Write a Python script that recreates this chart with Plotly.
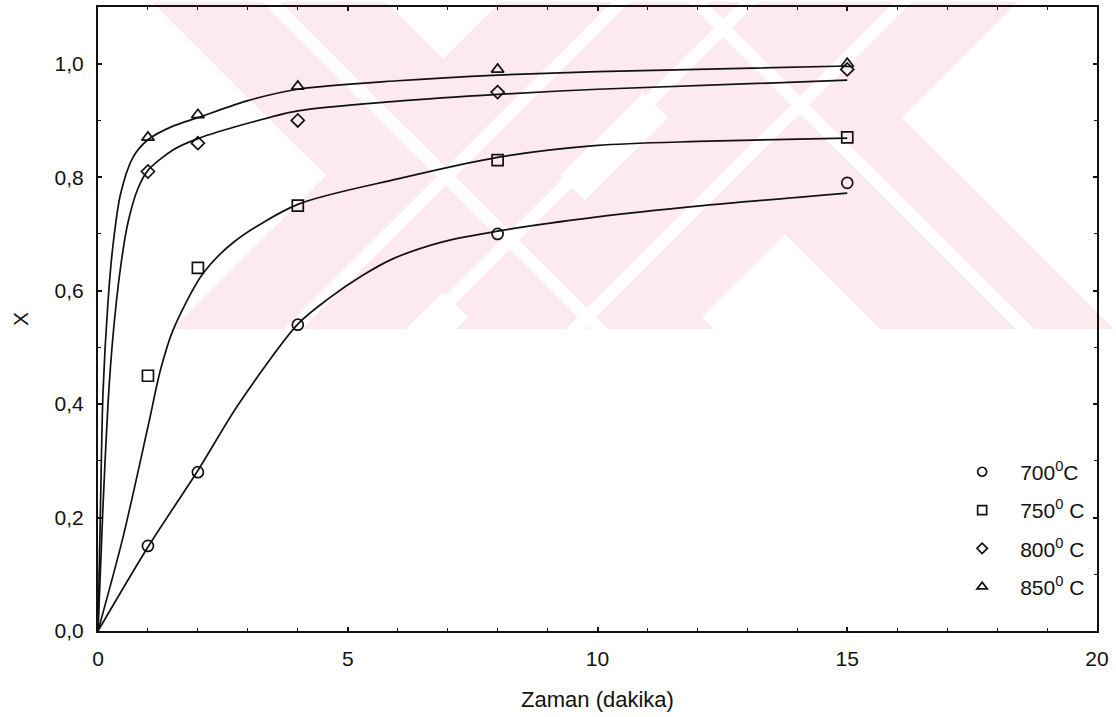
import plotly.graph_objects as go

# Measured conversion X vs. time (minutes) at four temperatures
t_obs = [1, 2, 4, 8, 15]
x700 = [0.15, 0.28, 0.54, 0.70, 0.79]
x750 = [0.45, 0.64, 0.75, 0.83, 0.87]
x800 = [0.81, 0.86, 0.90, 0.95, 0.99]
x850 = [0.87, 0.91, 0.96, 0.99, 1.00]

# Fitted model curves (time, conversion)
fit700_t = [0, 1, 2, 2.8, 4, 4.6, 5.3, 5.9, 6.9, 8, 10, 12, 15]
fit700_x = [0, 0.148, 0.283, 0.398, 0.541, 0.585, 0.627, 0.656, 0.686, 0.705, 0.730, 0.749, 0.772]
fit750_t = [0, 0.5, 1.0, 1.25, 1.5, 2.1, 2.74, 4, 6, 8, 10, 12, 15]
fit750_x = [0, 0.165, 0.36, 0.46, 0.53, 0.63, 0.687, 0.752, 0.797, 0.835, 0.856, 0.863, 0.869]
fit800_t = [0, 0.1, 0.2, 0.3, 0.45, 0.6, 0.8, 1.0, 1.5, 2, 3, 4, 6, 8, 10, 15]
fit800_x = [0, 0.22, 0.40, 0.52, 0.64, 0.72, 0.78, 0.812, 0.848, 0.868, 0.895, 0.917, 0.934, 0.946, 0.955, 0.971]
fit850_t = [0, 0.05, 0.1, 0.2, 0.3, 0.45, 0.7, 1.0, 1.5, 2, 3, 4, 6, 8, 10, 15]
fit850_x = [0, 0.22, 0.42, 0.58, 0.68, 0.77, 0.835, 0.866, 0.89, 0.905, 0.935, 0.955, 0.970, 0.980, 0.986, 0.996]

series_names = ["700<sup>0</sup>C", "750<sup>0</sup> C", "800<sup>0</sup> C", "850<sup>0</sup> C"]
symbols = ["circle-open", "square-open", "diamond-open", "triangle-up-open"]
x_ticks = [0, 5, 10, 15, 20]
y_ticks = [0.0, 0.2, 0.4, 0.6, 0.8, 1.0]

W, H = 1116, 717
ML, MR, MT, MB = 98, 19, 5, 86
PW, PH = W - ML - MR, H - MT - MB

FONT = "Arial, Liberation Sans, sans-serif"
INK = "#111111"
PINK = "rgb(252,234,238)"


def to_paper(px, py):
    return (px - ML) / PW, (H - MB - py) / PH


def clip(poly, nx, ny, c):
    """Keep the part of a polygon where nx*x + ny*y <= c."""
    out = []
    n = len(poly)
    for i in range(n):
        p, q = poly[i], poly[(i + 1) % n]
        fp = nx * p[0] + ny * p[1] - c
        fq = nx * q[0] + ny * q[1] - c
        if fp <= 0:
            out.append(p)
        if fp * fq < 0:
            s = fp / (fp - fq)
            out.append((p[0] + s * (q[0] - p[0]), p[1] + s * (q[1] - p[1])))
    return out


def band(kind, lo, hi, box=(0, 0, W, 328)):
    """Diagonal band lo <= (x-y or x+y) <= hi, clipped to a pixel box."""
    x0, y0, x1, y1 = box
    poly = [(x0, y0), (x1, y0), (x1, y1), (x0, y1)]
    sy = -1 if kind == "\\" else 1
    poly = clip(poly, 1, sy, hi)
    poly = clip(poly, -1, -sy, -lo)
    return poly


def path_of(poly):
    pts = [to_paper(x, y) for x, y in poly]
    return "M" + "L".join(f"{a:.5f},{b:.5f}" for a, b in pts) + "Z"


# Background emblem: two crossed X marks, each arm split by a thin white line
emblem_pink = [("\\", 152, 386), ("/", 500, 734), ("\\", 552, 786), ("/", 784, 1018)]
emblem_white = [("\\", 262, 280), ("/", 612, 630), ("/", 740, 758),
                ("\\", 688, 706), ("/", 894, 912)]

shapes = []
for kind, lo, hi in emblem_pink:
    poly = band(kind, lo, hi)
    if len(poly) >= 3:
        shapes.append(dict(type="path", path=path_of(poly), xref="paper", yref="paper",
                           fillcolor=PINK, line=dict(width=0), layer="below"))
for kind, lo, hi in emblem_white:
    poly = band(kind, lo, hi)
    if len(poly) >= 3:
        shapes.append(dict(type="path", path=path_of(poly), xref="paper", yref="paper",
                           fillcolor="white", line=dict(width=0), layer="below"))

fig = go.Figure()

curves = [(fit700_t, fit700_x), (fit750_t, fit750_x), (fit800_t, fit800_x), (fit850_t, fit850_x)]
for t, xv in curves:
    fig.add_trace(go.Scatter(x=t, y=xv, mode="lines", showlegend=False, hoverinfo="skip",
                             line=dict(color=INK, width=1.7, shape="spline", smoothing=0.8)))

obs = [x700, x750, x800, x850]
sizes = [11, 11, 10, 11]
for i, yv in enumerate(obs):
    fig.add_trace(go.Scatter(x=t_obs, y=yv, mode="markers", showlegend=False,
                             marker=dict(symbol=symbols[i], size=sizes[i], color=INK,
                                         line=dict(color=INK, width=1.7))))

# Legend entries
leg_sizes = [9, 9, 8, 9]
for i, name in enumerate(series_names):
    fig.add_trace(go.Scatter(x=[None], y=[None], mode="markers", name=name, legendgroup=name,
                             marker=dict(symbol=symbols[i], size=leg_sizes[i], color=INK,
                                         line=dict(color=INK, width=1.7))))

axis_common = dict(showline=True, linecolor=INK, linewidth=2, mirror="ticks",
                   ticks="inside", ticklen=4, tickwidth=1.5, tickcolor=INK,
                   showgrid=False, zeroline=False,
                   tickfont=dict(family=FONT, size=21, color=INK))

fig.update_layout(
    width=W, height=H,
    margin=dict(l=ML, r=MR, t=MT, b=MB),
    paper_bgcolor="white", plot_bgcolor="rgba(0,0,0,0)",
    separators=",.",
    shapes=shapes,
    xaxis=dict(range=[0, 20], tickvals=x_ticks, ticklabelstandoff=8,
               minor=dict(dtick=1, ticks="inside", ticklen=3, tickcolor=INK, tickwidth=1),
               title=dict(text="Zaman (dakika)", font=dict(family=FONT, size=22, color=INK), standoff=22),
               **axis_common),
    yaxis=dict(range=[0, 1.1], tickvals=y_ticks, tickformat=".1f", ticklabelstandoff=8,
               minor=dict(dtick=0.1, ticks="inside", ticklen=3, tickcolor=INK, tickwidth=1),
               title=dict(text="X", font=dict(family=FONT, size=21, color=INK), standoff=20),
               **axis_common),
    legend=dict(x=0.847, y=0.2875, xanchor="left", yanchor="top", bgcolor="rgba(0,0,0,0)",
                font=dict(family=FONT, size=21, color=INK), traceorder="grouped",
                tracegroupgap=8, itemwidth=66),
    showlegend=True,
)

fig.write_html("out.html")
